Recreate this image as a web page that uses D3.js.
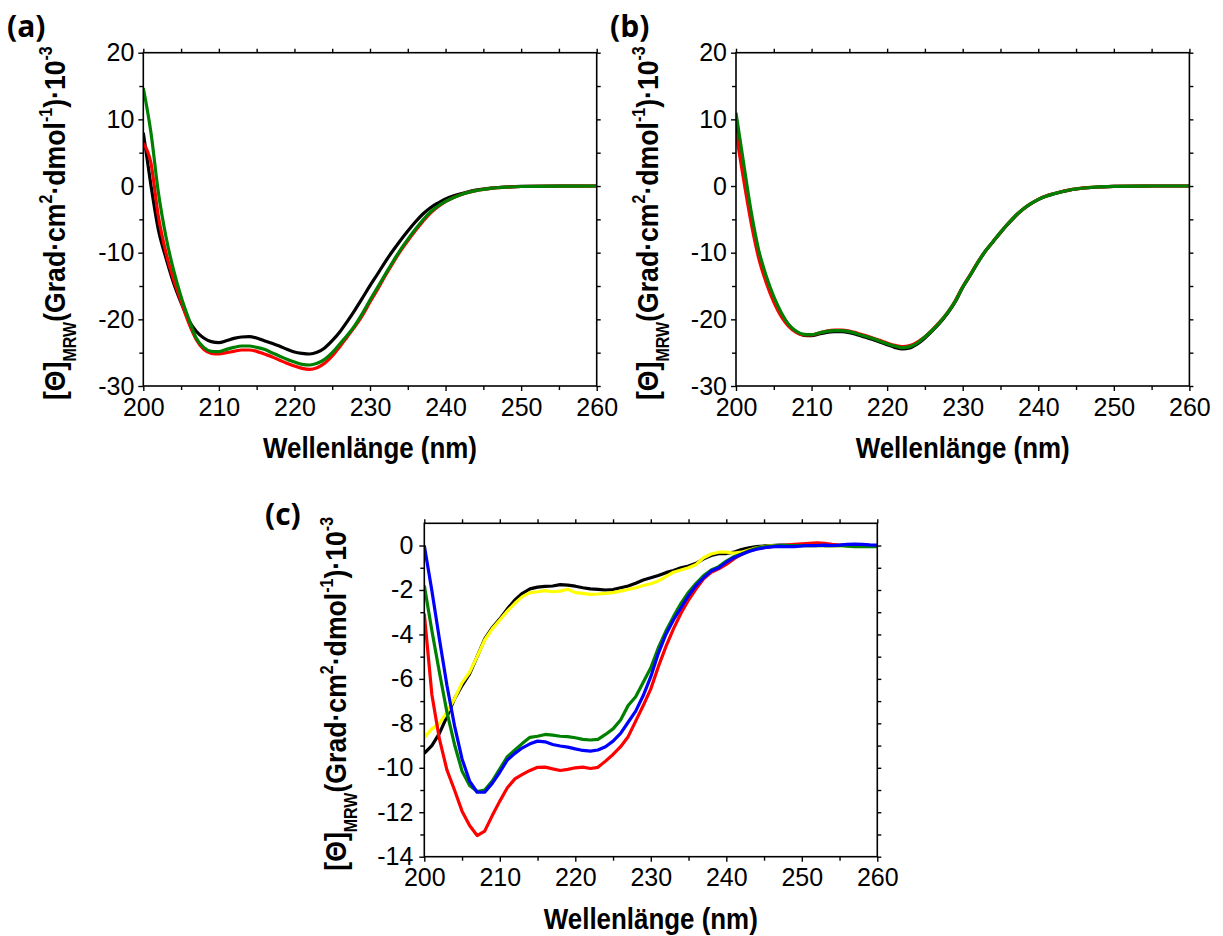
<!DOCTYPE html>
<html>
<head>
<meta charset="utf-8">
<script src="https://cdn.jsdelivr.net/npm/d3@7"></script>
<style>
  html, body { margin: 0; padding: 0; background: #fff; }
  svg { display: block; }
</style>
</head>
<body>
<script>
// ---------- data: mean residue ellipticity (×10^-3) vs wavelength ----------
const wlAB = [200,201,202,203,204,205,206,207,208,209,210,211,212,213,214,215,216,217,218,219,
              220,221,222,223,224,225,226,227,228,229,230,231,232,233,234,235,236,237,238,239,
              240,241,242,243,244,245,246,247,248,250,255,260];

const aBlack = [8,0.2,-6.6,-10.8,-14.5,-17.5,-20.1,-21.8,-22.8,-23.35,-23.5,-23.2,-22.85,-22.65,-22.6,-22.8,-23.2,-23.6,-24.0,-24.5,
                -24.9,-25.1,-25.2,-24.95,-24.3,-23.2,-21.9,-20.3,-18.6,-16.8,-14.95,-13.2,-11.4,-9.75,-8.2,-6.75,-5.4,-4.2,-3.25,-2.55,
                -1.95,-1.5,-1.15,-0.85,-0.62,-0.45,-0.32,-0.22,-0.15,-0.06,0,0];
const aRed   = [6.4,3.5,-4.6,-10.0,-14.0,-17.3,-20.5,-23.0,-24.5,-25.1,-25.2,-25.0,-24.8,-24.6,-24.6,-24.8,-25.2,-25.6,-26.1,-26.6,
                -27.0,-27.35,-27.5,-27.25,-26.6,-25.5,-24.1,-22.6,-21.1,-19.4,-17.4,-15.5,-13.5,-11.6,-9.8,-8.2,-6.7,-5.3,-4.05,-3.1,
                -2.35,-1.75,-1.3,-0.95,-0.7,-0.5,-0.35,-0.25,-0.17,-0.07,-0.01,0];
const aGreen = [14.7,8.1,-1.0,-7.6,-12.6,-16.6,-19.9,-22.8,-24.2,-24.8,-24.85,-24.5,-24.2,-24.0,-24.0,-24.2,-24.5,-25.0,-25.5,-26.0,
                -26.4,-26.75,-26.85,-26.6,-26.0,-25.0,-23.7,-22.4,-20.9,-19.1,-17.1,-15.2,-13.3,-11.4,-9.6,-8.0,-6.5,-5.1,-3.9,-3.0,
                -2.3,-1.75,-1.3,-0.95,-0.7,-0.5,-0.35,-0.25,-0.17,-0.07,-0.01,0];

const bBlack = [9.5,2.5,-4.5,-10.0,-13.8,-16.8,-19.2,-20.9,-21.9,-22.4,-22.45,-22.2,-21.95,-21.85,-21.85,-22.0,-22.3,-22.65,-23.0,-23.4,
                -23.8,-24.2,-24.45,-24.3,-23.7,-22.8,-21.7,-20.5,-19.1,-17.4,-15.2,-13.4,-11.5,-9.8,-8.4,-7.0,-5.7,-4.5,-3.5,-2.7,
                -2.05,-1.55,-1.2,-0.9,-0.65,-0.45,-0.3,-0.22,-0.15,-0.05,0,0];
const bRed   = [8,1.0,-5.5,-10.8,-14.5,-17.4,-19.6,-21.1,-22.0,-22.35,-22.35,-22.05,-21.75,-21.6,-21.6,-21.75,-22.05,-22.4,-22.75,-23.15,
                -23.55,-23.9,-24.1,-23.95,-23.4,-22.6,-21.55,-20.35,-18.95,-17.25,-15.1,-13.3,-11.4,-9.75,-8.35,-6.95,-5.65,-4.45,-3.45,-2.65,
                -2.0,-1.5,-1.15,-0.85,-0.62,-0.43,-0.29,-0.2,-0.14,-0.05,0,0];
const bGreen = [11.0,3.5,-3.8,-9.6,-13.5,-16.6,-19.0,-20.8,-21.8,-22.25,-22.3,-22.05,-21.8,-21.7,-21.7,-21.85,-22.15,-22.5,-22.85,-23.25,
                -23.65,-24.0,-24.25,-24.1,-23.55,-22.65,-21.6,-20.4,-19.0,-17.3,-15.15,-13.35,-11.45,-9.75,-8.35,-6.95,-5.65,-4.45,-3.45,-2.65,
                -2.0,-1.52,-1.17,-0.87,-0.63,-0.44,-0.3,-0.21,-0.14,-0.05,0,0];

const wlC = [200,201,202,203,204,205,206,207,208,209,210,211,212,213,214,215,216,217,218,219,
             220,221,222,223,224,225,226,227,228,229,230,231,232,233,234,235,236,237,238,239,
             240,241,242,243,244,245,246,247,248,249,250,251,252,253,254,255,256,257,258,259,260];

const cBlack  = [-9.35,-9.0,-8.45,-7.7,-6.9,-6.3,-5.77,-5.0,-4.2,-3.7,-3.3,-2.85,-2.45,-2.15,-1.95,-1.87,-1.84,-1.82,-1.76,-1.78,
                 -1.83,-1.9,-1.95,-1.97,-2.0,-1.98,-1.9,-1.82,-1.7,-1.55,-1.45,-1.35,-1.22,-1.12,-1.0,-0.92,-0.8,-0.6,-0.45,-0.37,
                 -0.36,-0.3,-0.18,-0.1,-0.05,-0.02,0,0.02,0.02,0,0,0.02,0.02,0,0,0.01,0.02,0.02,0.01,0,0];
const cYellow = [-8.63,-8.25,-8.0,-7.5,-6.9,-6.18,-5.7,-5.0,-4.25,-3.75,-3.35,-2.95,-2.6,-2.3,-2.12,-2.08,-2.03,-2.08,-2.05,-1.97,
                 -2.12,-2.15,-2.2,-2.18,-2.15,-2.12,-2.05,-1.98,-1.9,-1.8,-1.72,-1.6,-1.4,-1.2,-1.1,-1.0,-0.85,-0.55,-0.38,-0.3,
                 -0.3,-0.34,-0.3,-0.2,-0.1,-0.05,0,0,0,0,0,0,0,0,0,0,0,0,0,0,0];
const cRed    = [-3.07,-6.7,-8.7,-10.1,-11.0,-11.95,-12.6,-13.05,-12.85,-12.15,-11.5,-10.9,-10.5,-10.3,-10.12,-9.98,-9.97,-10.05,-10.12,-10.07,
                 -10.0,-9.97,-10.03,-9.98,-9.7,-9.4,-9.05,-8.6,-7.9,-7.2,-6.45,-5.45,-4.55,-3.75,-3.05,-2.45,-1.95,-1.5,-1.2,-1.05,
                 -0.85,-0.6,-0.4,-0.25,-0.15,-0.1,-0.05,0,0.02,0.05,0.08,0.1,0.12,0.1,0.05,0.02,0,0,0,0,0];
const cGreen  = [-1.8,-3.82,-5.7,-7.5,-8.95,-10.15,-10.8,-11.07,-11.0,-10.6,-10.05,-9.5,-9.2,-8.9,-8.63,-8.58,-8.5,-8.53,-8.58,-8.6,
                 -8.65,-8.72,-8.75,-8.72,-8.5,-8.25,-7.85,-7.2,-6.8,-6.15,-5.5,-4.6,-3.85,-3.2,-2.6,-2.1,-1.7,-1.35,-1.1,-0.95,
                 -0.7,-0.5,-0.38,-0.25,-0.12,-0.06,-0.03,0,0,0,0,0,0,0,0,0,-0.03,-0.05,-0.05,-0.05,-0.05];
const cBlue   = [0.0,-2.02,-4.2,-6.3,-8.1,-9.6,-10.6,-11.1,-11.1,-10.7,-10.2,-9.65,-9.35,-9.1,-8.92,-8.8,-8.83,-8.95,-9.02,-9.07,
                 -9.15,-9.22,-9.25,-9.2,-9.05,-8.8,-8.45,-7.95,-7.45,-6.75,-5.9,-4.85,-4.0,-3.35,-2.8,-2.25,-1.8,-1.45,-1.15,-1.0,
                 -0.75,-0.55,-0.4,-0.27,-0.17,-0.1,-0.06,-0.04,-0.05,-0.05,-0.02,0,0,0.02,0,0.02,0.05,0.06,0.05,0.03,0.02];

// tick values
const xTicks = [200,210,220,230,240,250,260];
const xMinor = [205,215,225,235,245,255];
const yTicksAB = [-30,-20,-10,0,10,20];
const yMinorAB = [-25,-15,-5,5,15];
const yTicksC = [-14,-12,-10,-8,-6,-4,-2,0];
const yMinorC = [-13,-11,-9,-7,-5,-3,-1];

// axis label pieces: [text, kind]
const yLabelParts = [["[Θ]","n"],["MRW","sub"],["(Grad·cm","n"],["2","sup"],["·dmol","n"],
                     ["-1","sup"],[")·10","n"],["-3","sup"]];
const xLabelText = "Wellenlänge (nm)";

// ---------- drawing ----------
const FONT = "'Liberation Sans', Arial, Helvetica, sans-serif";
const W = 1223, H = 936;
const svg = d3.select("body").append("svg").attr("width", W).attr("height", H);

const COLORS = { black: "#000000", red: "#ff0000", green: "#008000", blue: "#0000ff", yellow: "#ffff00" };

function panel(cfg) {
  const g = svg.append("g");
  const x = d3.scaleLinear().domain([200, 260]).range([cfg.left, cfg.right]);
  const y = d3.scaleLinear().domain(cfg.yDomain).range([cfg.bottom, cfg.top]);

  const clipId = "clip-" + cfg.name;
  svg.append("clipPath").attr("id", clipId).append("rect")
    .attr("x", cfg.left).attr("y", cfg.top)
    .attr("width", cfg.right - cfg.left).attr("height", cfg.bottom - cfg.top);

  const line = d3.line().x(d => x(d[0])).y(d => y(d[1])).curve(cfg.curve);
  const lines = g.append("g").attr("clip-path", `url(#${clipId})`);
  cfg.series.forEach(s => {
    lines.append("path")
      .datum(cfg.wl.map((w, i) => [w, s.values[i]]))
      .attr("fill", "none").attr("stroke", s.color)
      .attr("stroke-width", 3.2).attr("stroke-linejoin", "round")
      .attr("d", line);
  });

  const styleAxis = sel => {
    sel.attr("font-family", FONT);
    sel.select(".domain").remove();
    sel.selectAll(".tick line").attr("stroke", "#000").attr("stroke-width", 1.4);
    sel.selectAll("text").attr("font-family", FONT).attr("font-size", 25).attr("fill", "#000");
  };
  // major ticks with labels
  g.append("g").attr("transform", `translate(0,${cfg.bottom})`)
    .call(d3.axisBottom(x).tickValues(xTicks).tickSize(5).tickPadding(7).tickFormat(d3.format("d")))
    .call(styleAxis);
  g.append("g").attr("transform", `translate(${cfg.left},0)`)
    .call(d3.axisLeft(y).tickValues(cfg.yTicks).tickSize(5).tickPadding(cfg.yPad).tickFormat(d => d < 0 ? "-" + Math.abs(d) : String(d)))
    .call(styleAxis);
  // minor ticks and mirrored ticks on top / right
  g.append("g").attr("transform", `translate(0,${cfg.bottom})`)
    .call(d3.axisBottom(x).tickValues(xMinor).tickSize(4).tickFormat("")).call(styleAxis);
  g.append("g").attr("transform", `translate(${cfg.left},0)`)
    .call(d3.axisLeft(y).tickValues(cfg.yMinor).tickSize(4).tickFormat("")).call(styleAxis);
  g.append("g").attr("transform", `translate(0,${cfg.top})`)
    .call(d3.axisTop(x).tickValues(xTicks.concat(xMinor)).tickSize(4).tickFormat("")).call(styleAxis);
  g.append("g").attr("transform", `translate(${cfg.right},0)`)
    .call(d3.axisRight(y).tickValues(cfg.yTicks.concat(cfg.yMinor)).tickSize(4).tickFormat("")).call(styleAxis);

  // frame
  g.append("rect").attr("x", cfg.left).attr("y", cfg.top)
    .attr("width", cfg.right - cfg.left).attr("height", cfg.bottom - cfg.top)
    .attr("fill", "none").attr("stroke", "#000").attr("stroke-width", 1.6);

  // x label
  g.append("text").attr("x", (cfg.left + cfg.right) / 2).attr("y", cfg.bottom + 72)
    .attr("text-anchor", "middle").attr("font-family", FONT).attr("font-weight", "bold")
    .attr("font-size", 29).attr("textLength", 214).attr("lengthAdjust", "spacingAndGlyphs")
    .text(xLabelText);

  // y label (rotated, with sub/superscripts)
  const t = g.append("text").attr("font-family", FONT).attr("font-weight", "bold")
    .attr("font-size", 30).attr("text-anchor", "start");
  let shift = 0;
  yLabelParts.forEach(([s, k]) => {
    const target = k === "sub" ? 11 : k === "sup" ? -13 : 0;
    t.append("tspan").attr("dy", target - shift).attr("font-size", k === "n" ? 30 : 18).text(s);
    shift = target;
  });
  const len = t.node().getComputedTextLength();
  const bx = cfg.left - 78, by = cfg.bottom + 14;
  t.attr("transform", `translate(${bx},${by}) rotate(-90) scale(${354 / len},1)`);

  // panel letter
  svg.append("text").attr("x", cfg.tagX).attr("y", cfg.tagY)
    .attr("font-family", "'Open Sans', 'Noto Sans', sans-serif").attr("font-weight", "bold")
    .attr("font-size", 30).text(cfg.tag);
}

panel({
  name: "a", tag: "(a)", tagX: 7, tagY: 37,
  left: 143.3, right: 596.7, top: 52.7, bottom: 386,
  yDomain: [-30, 20], yTicks: yTicksAB, yMinor: yMinorAB, yPad: 4,
  wl: wlAB, curve: d3.curveMonotoneX,
  series: [
    { color: COLORS.black, values: aBlack },
    { color: COLORS.red, values: aRed },
    { color: COLORS.green, values: aGreen }
  ]
});

panel({
  name: "b", tag: "(b)", tagX: 610, tagY: 37,
  left: 736, right: 1189.4, top: 52.7, bottom: 386,
  yDomain: [-30, 20], yTicks: yTicksAB, yMinor: yMinorAB, yPad: 4,
  wl: wlAB, curve: d3.curveMonotoneX,
  series: [
    { color: COLORS.black, values: bBlack },
    { color: COLORS.red, values: bRed },
    { color: COLORS.green, values: bGreen }
  ]
});

panel({
  name: "c", tag: "(c)", tagX: 265, tagY: 525,
  left: 424.3, right: 877.3, top: 523.3, bottom: 856.7,
  yDomain: [-14, 1], yTicks: yTicksC, yMinor: yMinorC, yPad: 6,
  wl: wlC, curve: d3.curveLinear,
  series: [
    { color: COLORS.black, values: cBlack },
    { color: COLORS.yellow, values: cYellow },
    { color: COLORS.red, values: cRed },
    { color: COLORS.green, values: cGreen },
    { color: COLORS.blue, values: cBlue }
  ]
});
</script>
</body>
</html>
